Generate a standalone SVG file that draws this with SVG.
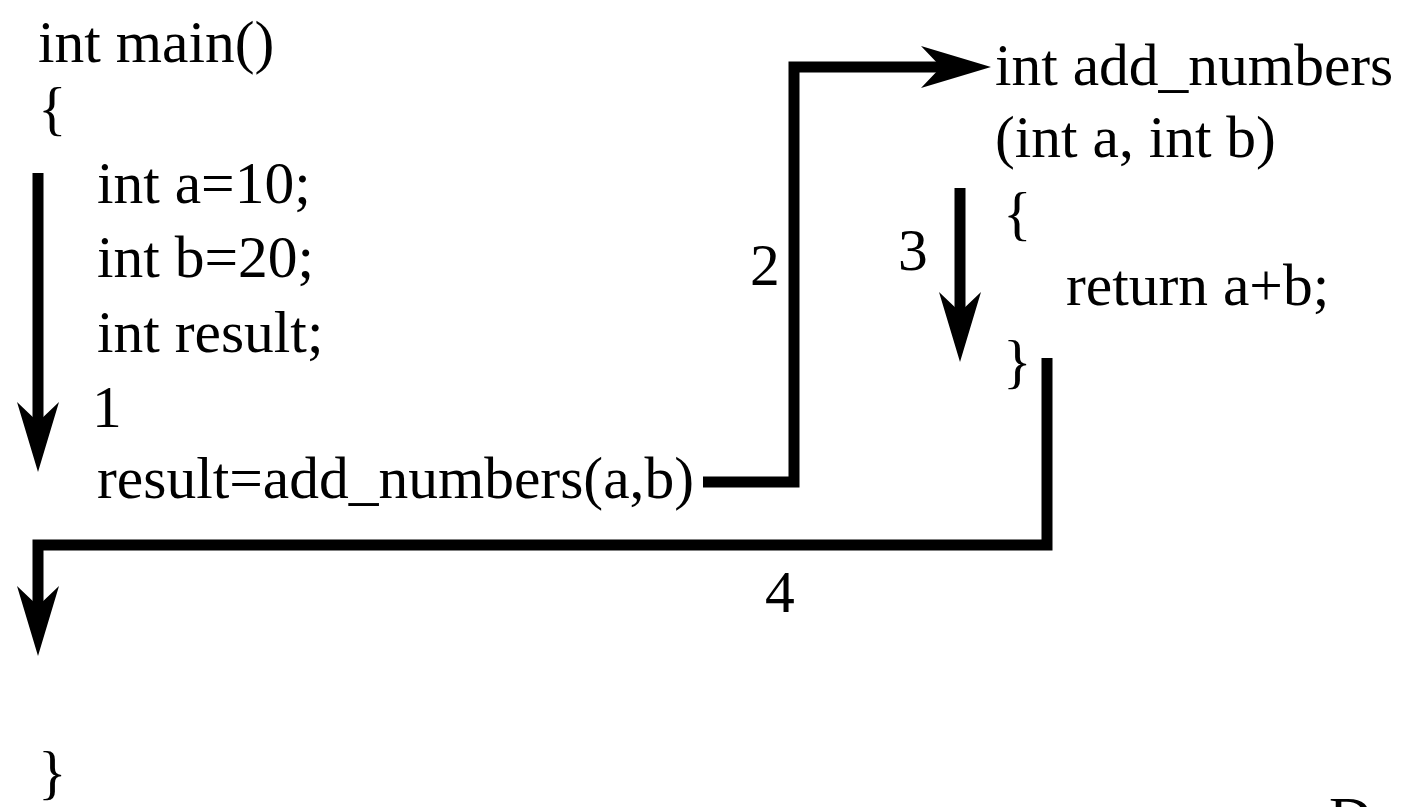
<svg xmlns="http://www.w3.org/2000/svg" width="1405" height="807" viewBox="0 0 1405 807">
<style>
text{font-family:"Liberation Serif","Times New Roman",serif;font-size:59.5px;fill:#000}
.c{fill:none;stroke:#000;stroke-width:11;stroke-linejoin:miter;stroke-linecap:butt}
</style>
<defs>
<marker id="ah" markerUnits="userSpaceOnUse" markerWidth="72" markerHeight="44" refX="20" refY="21" orient="auto" overflow="visible">
<path d="M0,0 L70,21 L0,42 L20,21 Z" fill="#000"/>
</marker>
</defs>
<rect width="1405" height="807" fill="#fff"/>
<g id="main">
<text x="38" y="62">int main()</text>
<text x="38" y="128">{</text>
<text x="97" y="203">int a=10;</text>
<text x="97" y="277">int b=20;</text>
<text x="97" y="352">int result;</text>
<text x="97" y="498">result=add_numbers(a,b)</text>
<text x="38" y="792">}</text>
</g>
<g id="add_numbers">
<text x="995" y="85">int add_numbers</text>
<text x="995" y="157">(int a, int b)</text>
<text x="1003" y="233">{</text>
<text x="1066" y="305">return a+b;</text>
<text x="1003" y="381">}</text>
</g>
<g id="labels">
<text x="92" y="427">1</text>
<text x="750" y="285">2</text>
<text x="898" y="270">3</text>
<text x="765" y="612">4</text>
<text x="1329" y="838">D</text>
</g>
<g id="connectors">
<path class="c" d="M38,173 V422" marker-end="url(#ah)"/>
<path class="c" d="M703,482 H794 V67 H941" marker-end="url(#ah)"/>
<path class="c" d="M960,188 V312" marker-end="url(#ah)"/>
<path class="c" d="M1047,358 V545 H38 V606" marker-end="url(#ah)"/>
</g>
</svg>
